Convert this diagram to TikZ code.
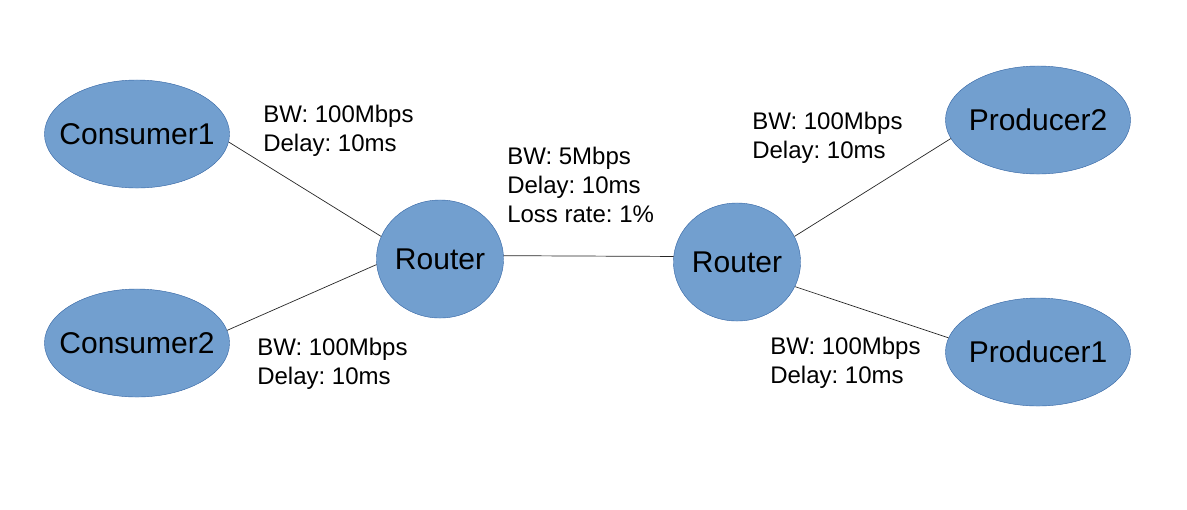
\documentclass[tikz,border=0pt]{standalone}
\usepackage{fontspec}
\setmainfont{Liberation Sans}
\usetikzlibrary{shapes.geometric}
\definecolor{hostblue}{HTML}{729FCF}
\definecolor{hostedge}{HTML}{3465A4}
\frenchspacing

\begin{document}
\begin{tikzpicture}[x=0.025cm, y=-0.025cm]
        \tikzstyle{host}=[draw=hostedge, line width=0.3pt, fill=hostblue, shape=ellipse, inner xsep=-0.4cm, inner ysep=0pt, minimum width=4.625cm, minimum height=2.7cm, font=\fontsize{21.34pt}{25pt}\selectfont];
        \tikzstyle{router}=[host, minimum width=3.175cm, minimum height=2.95cm];
        \tikzstyle{link}=[line width=0.5pt, color=black!85];
        \tikzstyle{linkinfo}=[anchor=north west, inner sep=0pt, align=left, font=\fontsize{17.07pt}{20.63pt}\selectfont];

        \useasboundingbox (0,0) rectangle (1187,509);

        % consumers
        \node[host] (c1) at (137,134) {Consumer1};
        \node[host] (c2) at (137,343) {Consumer2};

        % routers
        \node[router] (r1) at (440,259) {Router};
        \node[router] (r2) at (737,262) {Router};

        % producers
        \node[host] (p2) at (1038,120) {Producer2};
        \node[host] (p1) at (1038,352) {Producer1};

        % links
        \draw[link] (c1.-5) -- (r1.159);
        \draw[link] (c2.8) -- (r1.185);
        \draw[link] (r1.3) -- (r2.175);
        \draw[link] (r2.24) -- (p2.192);
        \draw[link] (r2.-23) -- (p1.171);

        % link info
        \foreach \n/\x/\y in {i1/263/105, i2/257/338, i3/752/112, i4/770/337}{
          \node[linkinfo] (\n) at (\x, \y) {BW: 100Mbps\\Delay: 10ms};
        }
        \node[linkinfo] (i5) at (507, 147) {BW: 5Mbps\\Delay: 10ms\\Loss rate: 1\%};
\end{tikzpicture}
\end{document}
